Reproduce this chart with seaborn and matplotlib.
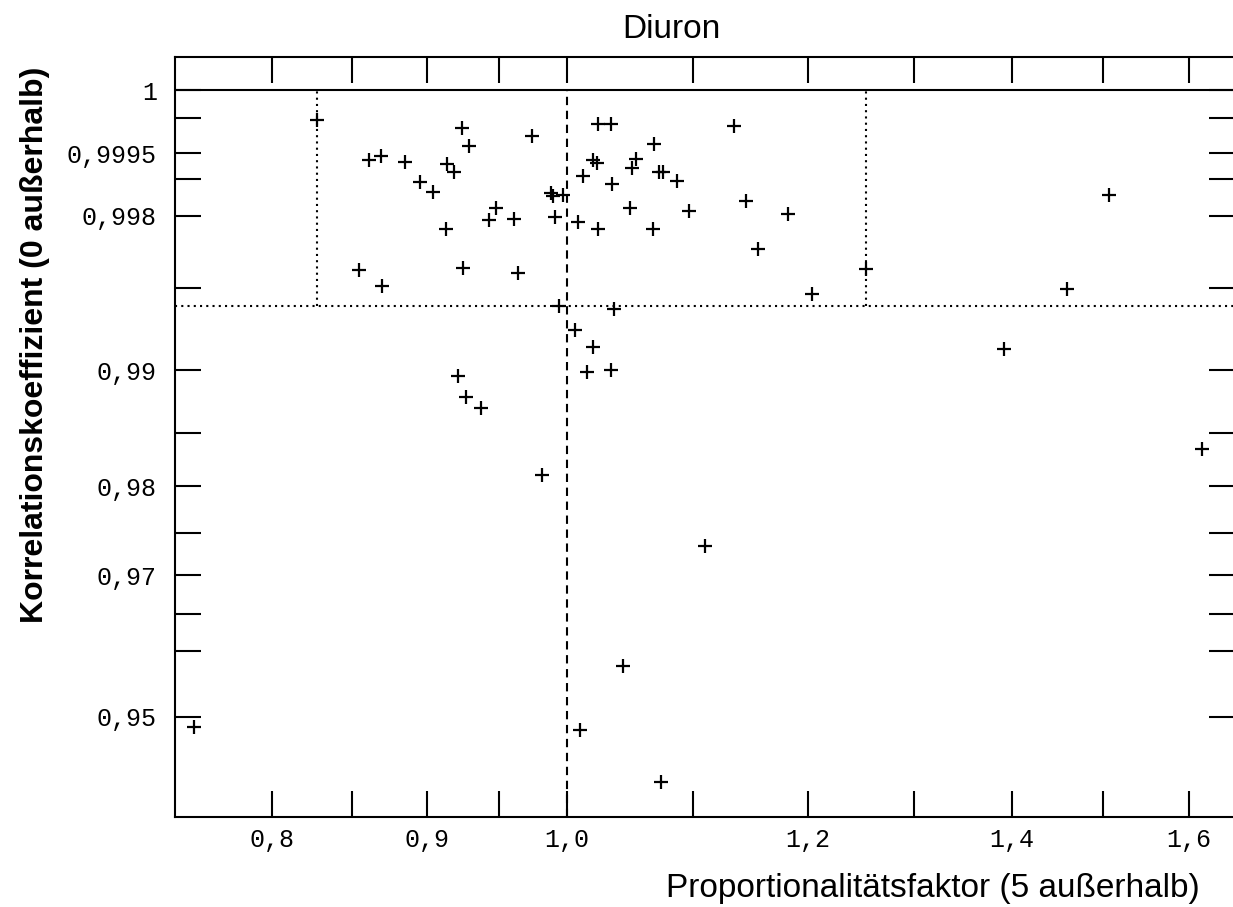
import numpy as np
import matplotlib
matplotlib.use('Agg')
from matplotlib import pyplot as plt
from matplotlib.ticker import NullFormatter
import seaborn as sns

sns.set_style('white')
plt.rcParams['font.family'] = ['Liberation Sans', 'DejaVu Sans']
plt.rcParams['text.color'] = 'black'
plt.rcParams['xtick.color'] = 'black'
plt.rcParams['ytick.color'] = 'black'

# Proportionalitaetsfaktor (x) und Korrelationskoeffizient (y), ein Wert je Kreuz
faktor = [0.8276, 0.9235, 0.9737, 0.9289, 0.8612, 0.8687, 0.8848, 0.9131, 0.9184, 0.8949,
          0.9039, 0.9881, 0.9895, 0.9973, 0.9478, 0.9430, 0.9610, 0.9910, 1.0082, 0.9124,
          0.8545, 0.9247, 0.9639, 0.8695, 0.9943, 1.0236, 1.0337, 1.1344, 1.0681, 1.0534,
          1.0199, 1.0230, 1.0120, 1.0502, 1.0721, 1.0754, 1.0871, 1.0345, 1.1448, 1.0486,
          1.0967, 1.1817, 1.0236, 1.0673, 1.1552, 1.2535, 1.2039, 1.0365, 1.5070, 1.4599,
          1.3916, 1.0061, 1.0197, 1.0151, 1.0337, 0.9208, 0.9263, 0.9369, 0.9816, 1.1101,
          0.7543, 1.0100, 1.0433, 1.0737, 1.6164]
korrelation = [0.99989, 0.99982, 0.99973, 0.99960, 0.99938, 0.99945, 0.99935, 0.99932, 0.99916, 0.99894,
               0.99868, 0.99866, 0.99858, 0.99861, 0.99825, 0.99786, 0.99789, 0.99797, 0.99779, 0.99755,
               0.99589, 0.99599, 0.99574, 0.99514, 0.99409, 0.99986, 0.99986, 0.99984, 0.99963, 0.99940,
               0.99938, 0.99933, 0.99907, 0.99923, 0.99915, 0.99915, 0.99895, 0.99888, 0.99844, 0.99823,
               0.99816, 0.99805, 0.99756, 0.99755, 0.99680, 0.99594, 0.99472, 0.99389, 0.99861, 0.99496,
               0.99146, 0.99268, 0.99159, 0.98991, 0.99004, 0.98960, 0.98799, 0.98712, 0.98114, 0.97357,
               0.94833, 0.94784, 0.95776, 0.93901, 0.98361]

x_major = [0.8, 0.9, 1.0, 1.2, 1.4, 1.6]
x_major_labels = ['0,8', '0,9', '1,0', '1,2', '1,4', '1,6']
x_minor = [0.85, 0.95, 1.1, 1.3, 1.5]
y_major = [1.0, 0.9995, 0.998, 0.99, 0.98, 0.97, 0.95]
y_major_labels = ['1', '0,9995', '0,998', '0,99', '0,98', '0,97', '0,95']
y_minor = [0.9999, 0.999, 0.995, 0.985, 0.975, 0.965, 0.96]

# Grenzen des Akzeptanzbereichs
faktor_grenzen = [0.828, 1.2535]
korrelation_grenze = 0.9941
x_limits = (0.7436, 1.6572)
y_limits = (0.93268, 1.000143)


def fwd(r):
    d = 1 - np.asarray(r, dtype=float)
    return -np.sign(d) * np.sqrt(np.abs(d))


def inv(t):
    t = np.asarray(t, dtype=float)
    return 1 + np.sign(t) * t ** 2


fig = plt.figure(figsize=(12.33, 9.07), dpi=100)
ax = fig.add_axes([175 / 1233, 1 - 817 / 907, 1060 / 1233, 760 / 907])

sns.scatterplot(x=faktor, y=korrelation, marker='+', color='black', s=95,
                linewidth=1.6, ax=ax, legend=False, zorder=5)

ax.set_xscale('log')
ax.set_yscale('function', functions=(fwd, inv))
ax.set_xlim(*x_limits)
ax.set_ylim(*y_limits)

tick_font = dict(fontfamily='Liberation Mono', fontsize=18, color='black')
ax.set_xticks(x_major, x_major_labels, **tick_font)
ax.set_xticks(x_minor, minor=True)
ax.set_yticks(y_major, y_major_labels, **tick_font)
ax.set_yticks(y_minor, minor=True)
ax.xaxis.set_minor_formatter(NullFormatter())
ax.yaxis.set_minor_formatter(NullFormatter())

ax.tick_params(which='both', direction='in', length=19, width=1.5, colors='black',
               bottom=True, left=True, top=True, right=True,
               labelbottom=True, labelleft=True, labeltop=False, labelright=False)
ax.tick_params(axis='y', pad=13)
ax.tick_params(axis='x', pad=8)

for side in ['top', 'left', 'bottom']:
    ax.spines[side].set_linewidth(1.5)
    ax.spines[side].set_color('black')
ax.spines['right'].set_visible(False)

# Linien
ax.axhline(1.0, color='black', lw=1.5)
ax.vlines(1.0, y_limits[0], 1.0, colors='black', linestyles=(0, (4, 2.7)), lw=1.5)
ax.vlines(faktor_grenzen, korrelation_grenze, 1.0, colors='black', linestyles=(0, (1, 2)), lw=1.5)
ax.axhline(korrelation_grenze, color='black', linestyle=(0, (1, 2)), lw=1.5)

ax.set_xlabel('')
ax.set_ylabel('')

fig.text(671 / 1233, 1 - 38 / 907, 'Diuron', ha='center', va='baseline', fontsize=24, color='black')
fig.text(1200 / 1233, 1 - 897 / 907, 'Proportionalitätsfaktor (5 außerhalb)',
         ha='right', va='baseline', fontsize=24, color='black')
fig.text(35 / 1233, 1 - 345 / 907, 'Korrelationskoeffizient (0 außerhalb)',
         rotation=90, ha='center', va='center', fontsize=23, fontweight='bold', color='black')

fig.savefig('out.png', dpi=100)
